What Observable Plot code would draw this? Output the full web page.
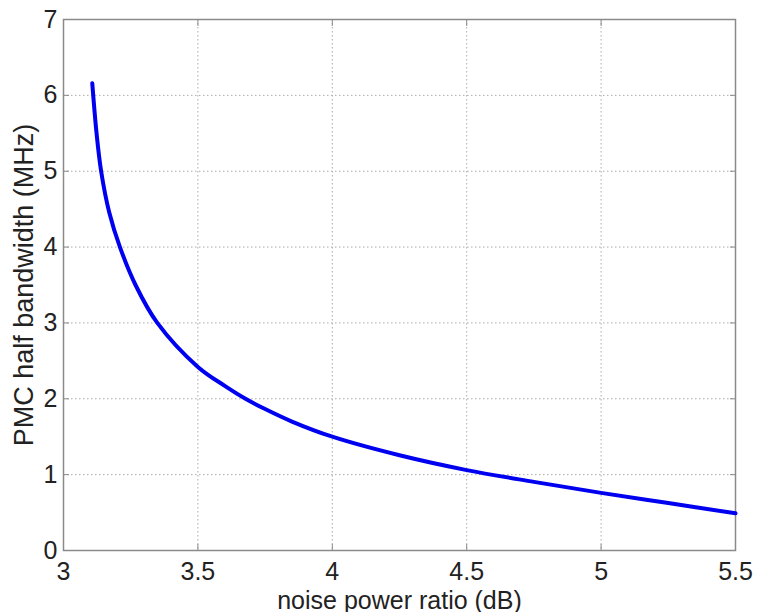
<!DOCTYPE html>
<html>
<head>
<meta charset="utf-8">
<script src="https://cdn.jsdelivr.net/npm/d3@7"></script>
<script src="https://cdn.jsdelivr.net/npm/@observablehq/plot@0.6"></script>
<style>
  html, body { margin: 0; padding: 0; background: #fff; }
  #chart { width: 763px; height: 612px; }
</style>
</head>
<body>
<div id="chart"></div>
<script>
// Data
const noiseRatio = [3.107, 3.123, 3.14, 3.17, 3.21, 3.268, 3.349, 3.50, 3.60, 3.677, 3.75, 3.85, 4.0, 4.25, 4.5, 4.75, 5.0, 5.25, 5.5];
const halfBandwidth = [6.16, 5.5, 5.0, 4.46, 4.0, 3.5, 3.0, 2.42, 2.17, 2.0, 1.865, 1.70, 1.50, 1.255, 1.06, 0.905, 0.76, 0.625, 0.49];
const xTicks = [3, 3.5, 4, 4.5, 5, 5.5];
const yTicks = [0, 1, 2, 3, 4, 5, 6, 7];
const xLabel = "noise power ratio (dB)";
const yLabel = "PMC half bandwidth (MHz)";

const data = noiseRatio.map((x, i) => ({x, y: halfBandwidth[i]}));

const chart = Plot.plot({
  width: 763,
  height: 612,
  marginLeft: 63,
  marginRight: 28,
  marginTop: 19,
  marginBottom: 62,
  style: {fontFamily: "'Liberation Sans', Arial, sans-serif", fontSize: "25px", color: "#222", background: "#fff"},
  x: {domain: [3, 5.5]},
  y: {domain: [0, 7]},
  marks: [
    Plot.gridX(xTicks.slice(1, -1), {stroke: "#aaa", strokeOpacity: 1, strokeDasharray: "1.5,2.5"}),
    Plot.gridY(yTicks.slice(1, -1), {stroke: "#aaa", strokeOpacity: 1, strokeDasharray: "1.5,2.5"}),
    Plot.frame({stroke: "#8a8a8a", strokeWidth: 1.5}),
    // inward ticks on all four sides
    Plot.axisX(xTicks, {anchor: "bottom", tickSize: -6, text: null, label: null, stroke: "#8a8a8a"}),
    Plot.axisX(xTicks, {anchor: "top", tickSize: -6, text: null, label: null, stroke: "#8a8a8a"}),
    Plot.axisY(yTicks, {anchor: "left", tickSize: -6, text: null, label: null, stroke: "#8a8a8a"}),
    Plot.axisY(yTicks, {anchor: "right", tickSize: -6, text: null, label: null, stroke: "#8a8a8a"}),
    // labels
    Plot.axisX(xTicks, {anchor: "bottom", tickSize: 0, tickPadding: 12, tickFormat: d => String(d), label: xLabel, labelAnchor: "center", labelOffset: 58, labelArrow: "none", fill: "#222"}),
    Plot.axisY(yTicks, {anchor: "left", tickSize: 0, tickPadding: 6, tickFormat: d => String(d), label: null, fill: "#222"}),
    Plot.axisY(yTicks, {anchor: "left", tickSize: 0, text: null, label: yLabel, labelAnchor: "center", labelOffset: 50, labelArrow: "none", fill: "#222", fontSize: 27}),
    Plot.line(data, {x: "x", y: "y", stroke: "#0000f0", strokeWidth: 4, curve: "catmull-rom"})
  ]
});
document.getElementById("chart").appendChild(chart);
</script>
</body>
</html>
